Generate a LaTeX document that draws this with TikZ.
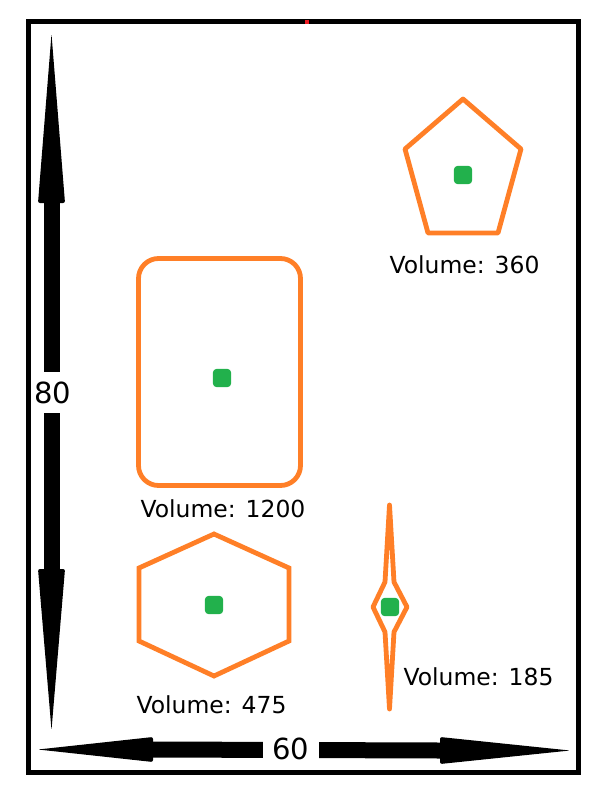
\documentclass[tikz,border=0pt]{standalone}
\usepackage{fontspec}
\setmainfont{DejaVu Sans}
\definecolor{orangeP}{RGB}{255,127,39}
\definecolor{greenP}{RGB}{34,177,76}
\definecolor{redP}{RGB}{237,28,36}

\begin{document}
\begin{tikzpicture}[x=0.75pt,y=-0.75pt,every node/.style={inner sep=0pt},
 shape line/.style={draw=orangeP,line width=3.6pt},
 dot/.style={fill=greenP,rounded corners=3pt,minimum size=13.8pt},
 vol/.style={anchor=base,font=\fontsize{17.6pt}{20pt}\selectfont},
 dim/.style={line width=12pt},
 dimhead/.style={fill=black,rounded corners=1.5pt},
 dimlabel/.style={fill=white,inner sep=7.5pt,font=\fontsize{21.8pt}{24pt}\selectfont}]
\useasboundingbox (0,0) rectangle (600,800);
\draw[shape line,line join=round] (463,99) -- (521,149) -- (498,233) -- (428,233) -- (405,149) -- cycle;
\draw[shape line,rounded corners=15pt] (138.5,258.5) rectangle (300.5,485.5);
\draw[shape line] (214,534) -- (289,568) -- (289,641) -- (214,676) -- (139,641) -- (139,568) -- cycle;
\draw[shape line,line join=round] (389.5,505) -- (394,582) -- (407,607) -- (394,632) -- (389.5,709) -- (385,632) -- (373,607) -- (385,582) -- cycle;
\node[dot] (penta) at (463,175) {};
\node[dot] (rect) at (222,378) {};
\node[dot] (hexa) at (214,605) {};
\node[dot] (spike) at (390,607) {};
\node[vol] (vpenta) at (464.5,273) {Volume: 360};
\node[vol] (vrect) at (223,517) {Volume: 1200};
\node[vol] (vhexa) at (211.5,713) {Volume: 475};
\node[vol] (vspike) at (478.5,685) {Volume: 185};
\coordinate (top) at (51.5,34);
\coordinate (topbase) at (51.5,203);
\coordinate (bottom) at (51.5,730);
\coordinate (bottombase) at (51.5,569);
\coordinate (left) at (38,749.5);
\coordinate (leftbase) at (153,749.5);
\coordinate (right) at (570,750.5);
\coordinate (rightbase) at (440,750.5);
\draw[dim] (topbase) -- (bottombase);
\draw[dim] (leftbase) -- (rightbase);
\fill[dimhead] (top) -- (65,203) -- (38,203) -- cycle;
\fill[dimhead] (bottom) -- (65,569) -- (38,569) -- cycle;
\fill[dimhead] (left) -- (153,762) -- (153,737) -- cycle;
\fill[dimhead] (right) -- (440,764) -- (440,737) -- cycle;
\node[dimlabel] (height) at (52.5,392.5) {80};
\node[dimlabel] (width) at (291,749) {60};
\draw[line width=3.75pt] (28,21.5) rectangle (578.5,772.5);
\fill[redP] (305,19.5) rectangle (309,23.5);
\end{tikzpicture}
\end{document}
